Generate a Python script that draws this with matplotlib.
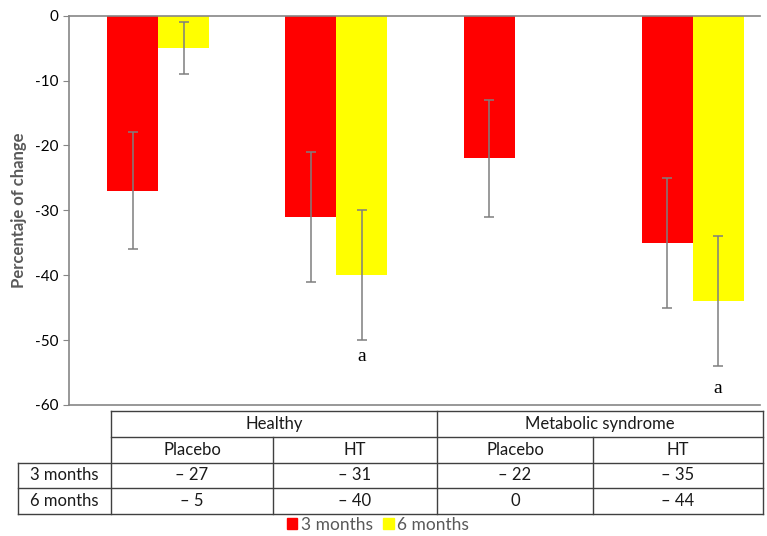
import numpy as np
import matplotlib.pyplot as plt
from matplotlib.patches import Patch

# data
groups = ['Healthy', 'Metabolic syndrome']
treatments = ['Placebo', 'HT', 'Placebo', 'HT']
months3 = [-27, -31, -22, -35]
months6 = [-5, -40, 0, -44]
err3 = [9, 10, 9, 10]
err6 = [4, 10, 0, 10]
marks6 = ['', 'a', '', 'a']
mark_y = [0, -52.5, 0, -57.4]
yticks = [0, -10, -20, -30, -40, -50, -60]

W, H = 767, 536
fig = plt.figure(figsize=(W / 100, H / 100), dpi=100)

def px(x0, y0, x1, y1):
    return [x0 / W, 1 - y1 / H, (x1 - x0) / W, (y1 - y0) / H]

ax = fig.add_axes(px(69, 15.7, 760, 405))
x = np.arange(len(months3))
bw = 0.286
ax.bar(x - bw / 2, months3, bw, color='#ff0000', zorder=2)
ax.bar(x + bw / 2, months6, bw, color='#ffff00', zorder=2)
ax.errorbar(x - bw / 2, months3, yerr=err3, fmt='none', ecolor='#7f7f7f',
            elinewidth=1.1, capsize=3.5, capthick=1.1, zorder=3)
keep = [i for i in range(len(months6)) if err6[i] > 0]
ax.errorbar((x + bw / 2)[keep], np.array(months6)[keep],
            yerr=np.array(err6)[keep], fmt='none', ecolor='#7f7f7f',
            elinewidth=1.1, capsize=3.5, capthick=1.1, zorder=3)
for i, m in enumerate(marks6):
    if m:
        ax.text(x[i] + bw / 2, mark_y[i], m, ha='center', va='center',
                fontsize=14, family='Liberation Serif')

ax.set_xlim(-0.5, -0.5 + 691 / 178.2)
ax.set_ylim(-60, 0)
ax.set_yticks(yticks)
ax.set_yticklabels([str(t) for t in yticks], family='Lato', fontsize=11)
ax.set_xticks([])
ax.tick_params(axis='y', direction='out', length=4, color='#868686')
for s in ['left', 'top', 'bottom']:
    ax.spines[s].set_color('#868686')
    ax.spines[s].set_linewidth(1.2)
ax.spines['right'].set_visible(False)
ax.set_ylabel('Percentaje of change', family='Lato', fontsize=12, fontweight='bold',
              color='#595959', labelpad=6)

# table below the chart
tb = fig.add_axes([0, 0, 1, 1])
tb.set_xlim(0, W)
tb.set_ylim(H, 0)
tb.axis('off')
lc = dict(color='#404040', lw=1)
cols = [111, 273, 437, 593, 763]
tb.plot([111, 763], [411, 411], **lc)
tb.plot([111, 763], [437, 437], **lc)
tb.plot([18, 763], [463, 463], **lc)
tb.plot([18, 763], [488, 488], **lc)
tb.plot([18, 763], [514, 514], **lc)
tb.plot([18, 18], [463, 514], **lc)
for c in [111, 437, 763]:
    tb.plot([c, c], [411, 514], **lc)
for c in [273, 593]:
    tb.plot([c, c], [437, 514], **lc)

tf = dict(family='Lato', fontsize=12, ha='center', va='center', color='#1a1a1a')
tb.text((111 + 437) / 2, 424, groups[0], **tf)
tb.text((437 + 763) / 2, 424, groups[1], **tf)
for i, t in enumerate(treatments):
    cx = (cols[i] + cols[i + 1]) / 2
    tb.text(cx, 450, t, **tf)
    for v, ry in [(months3[i], 475.5), (months6[i], 501)]:
        tb.text(cx, ry, '0' if v == 0 else '\u2013 %d' % -v, **tf)
tb.text(64.5, 475.5, '3 months', **tf)
tb.text(64.5, 501, '6 months', **tf)

handles = [Patch(color='#ff0000', label='3 months'), Patch(color='#ffff00', label='6 months')]
leg = fig.legend(handles=handles, loc='center', bbox_to_anchor=(378 / W, 1 - 525 / H), ncol=2,
                 frameon=False, handlelength=0.6, handleheight=0.6, handletextpad=0.2,
                 columnspacing=0.6, borderpad=0, prop={'family': 'Lato', 'size': 12.5})
for t in leg.get_texts():
    t.set_color('#595959')

fig.savefig('out.png', dpi=100)
